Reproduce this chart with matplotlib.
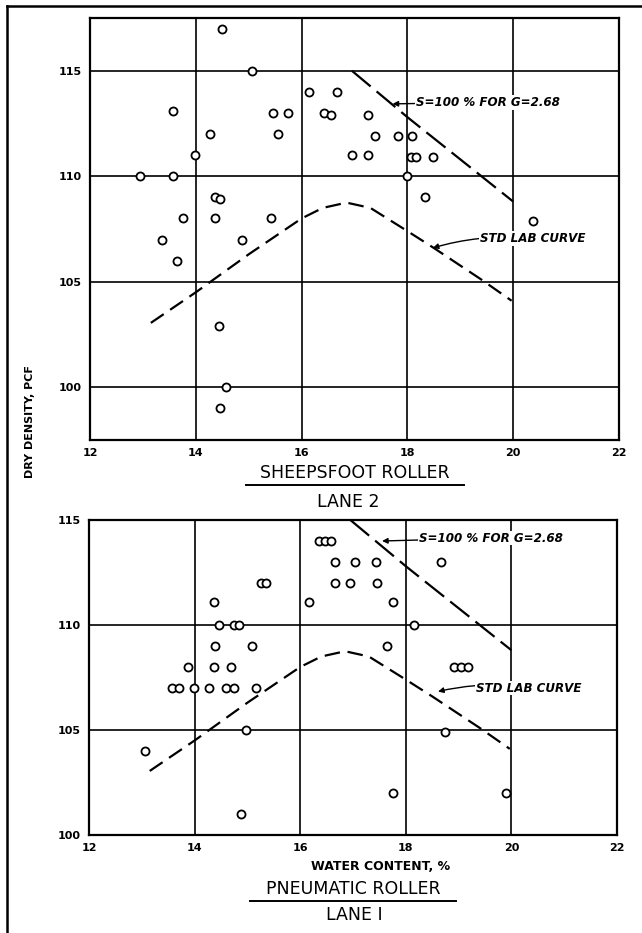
import matplotlib
matplotlib.use('Agg')
import matplotlib.pyplot as plt
from matplotlib.lines import Line2D

plt.rcParams.update({
    'font.family': 'DejaVu Sans',
    'font.weight': 'bold',
})

# ---- data ----
# Sheepsfoot roller, lane 2
sheep_w = [14.49, 15.07, 13.56, 15.45, 15.75, 16.14, 16.66, 16.43, 16.55, 17.25,
           14.26, 15.56, 17.38, 17.83, 18.08, 13.98, 16.95, 17.25, 18.06, 18.17,
           18.49, 12.95, 13.56, 18.00, 14.36, 14.45, 18.34, 13.75, 14.36, 15.43,
           20.38, 13.36, 14.87, 13.64, 14.43, 14.57, 14.45]
sheep_d = [117.0, 115.0, 113.1, 113.0, 113.0, 114.0, 114.0, 113.0, 112.9, 112.9,
           112.0, 112.0, 111.9, 111.9, 111.9, 111.0, 111.0, 111.0, 110.9, 110.9,
           110.9, 110.0, 110.0, 110.0, 109.0, 108.9, 109.0, 108.0, 108.0, 108.0,
           107.9, 107.0, 107.0, 106.0, 102.9, 100.0, 99.0]

# Pneumatic roller, lane 1
pneu_w = [16.35, 16.47, 16.58, 16.66, 17.04, 17.43, 18.66, 15.26, 15.36, 16.66,
          16.94, 17.45, 14.36, 16.17, 17.75, 14.47, 14.75, 14.85, 18.15, 14.38,
          15.08, 17.64, 13.87, 14.36, 14.69, 18.92, 19.04, 19.17, 13.57, 13.70,
          13.98, 14.27, 14.60, 14.75, 15.17, 14.98, 18.75, 13.06, 17.75, 19.89,
          14.88]
pneu_d = [114.0, 114.0, 114.0, 113.0, 113.0, 113.0, 113.0, 112.0, 112.0, 112.0,
          112.0, 112.0, 111.1, 111.1, 111.1, 110.0, 110.0, 110.0, 110.0, 109.0,
          109.0, 109.0, 108.0, 108.0, 108.0, 108.0, 108.0, 108.0, 107.0, 107.0,
          107.0, 107.0, 107.0, 107.0, 107.0, 105.0, 104.9, 104.0, 102.0, 102.0,
          101.0]

# S = 100 % for G = 2.68 (zero air voids line)
zav_w = [16.95, 18.0, 20.0]
zav_d = [115.0, 112.8, 108.8]

# standard laboratory compaction curve
std_w = [13.15, 14.0, 15.0, 16.0, 16.4, 16.85, 17.3, 18.0, 18.5, 19.4, 19.97]
std_d = [103.05, 104.5, 106.3, 108.0, 108.5, 108.75, 108.5, 107.4, 106.6, 105.1, 104.1]

x_ticks = [12, 14, 16, 18, 20, 22]

W, H = 642, 933
fig = plt.figure(figsize=(W / 100, H / 100), dpi=100)


def px_axes(x0, y0, x1, y1):
    return fig.add_axes([x0 / W, 1 - y1 / H, (x1 - x0) / W, (y1 - y0) / H])


def panel(ax, w, d, ylim, yticks, s_txt, s_tip, std_txt, std_tip):
    ax.set_xlim(12, 22)
    ax.set_ylim(*ylim)
    ax.set_xticks(x_ticks)
    ax.set_yticks(yticks)
    ax.tick_params(length=0, labelsize=8, pad=6)
    for s in ax.spines.values():
        s.set_linewidth(1.6)
    ax.grid(True, color='black', linewidth=1.2)
    ax.set_axisbelow(True)

    ax.plot(zav_w, zav_d, color='black', lw=1.6, dashes=(11, 3.5), zorder=3)
    ax.plot(std_w, std_d, color='black', lw=1.6, dashes=(7, 3.5), zorder=3)
    ax.plot(w, d, 'o', ms=5.8, mfc='white', mec='black', mew=1.3, zorder=4)

    box = dict(facecolor='white', edgecolor='none', pad=0.5)
    ax.annotate('S=100 % FOR G=2.68', xy=s_tip, xytext=s_txt, fontsize=8.6,
                style='italic', weight='semibold', ha='left', va='center',
                bbox=box, zorder=5,
                arrowprops=dict(arrowstyle='-|>', color='black', lw=1,
                                mutation_scale=8, shrinkA=0, shrinkB=0))
    ax.annotate('STD LAB CURVE', xy=std_tip, xytext=std_txt, fontsize=8.6,
                style='italic', weight='semibold', ha='left', va='center',
                bbox=box, zorder=5,
                arrowprops=dict(arrowstyle='-|>', color='black', lw=1,
                                mutation_scale=8, shrinkA=0, shrinkB=0,
                                connectionstyle='arc3,rad=0.1'))


ax1 = px_axes(90, 18, 619, 440)
panel(ax1, sheep_w, sheep_d, (97.5, 117.5), [100, 105, 110, 115],
      (18.16, 113.5), (17.72, 113.43), (19.37, 107.05), (18.48, 106.6))

ax2 = px_axes(89, 520, 617, 835)
panel(ax2, pneu_w, pneu_d, (100, 115), [100, 105, 110, 115],
      (18.25, 114.14), (17.55, 114.0), (19.33, 107.0), (18.61, 106.83))

# titles and labels
fig.text(355 / W, 1 - 473 / H, 'SHEEPSFOOT ROLLER', ha='center', va='center',
         fontsize=12.5, weight='medium')
fig.add_artist(Line2D([246 / W, 464 / W], [1 - 485 / H, 1 - 485 / H], color='black', lw=1.4))
fig.text(348 / W, 1 - 502 / H, 'LANE 2', ha='center', va='center', fontsize=12.5, weight='medium')

fig.text(30 / W, 1 - 422 / H, 'DRY DENSITY, PCF', rotation=90, ha='center', va='center', fontsize=8)

fig.text(381 / W, 1 - 866 / H, 'WATER CONTENT, %', ha='center', va='center', fontsize=9)
fig.text(353 / W, 1 - 889 / H, 'PNEUMATIC ROLLER', ha='center', va='center',
         fontsize=12.5, weight='medium')
fig.add_artist(Line2D([250 / W, 456 / W], [1 - 901 / H, 1 - 901 / H], color='black', lw=1.4))
fig.text(354 / W, 1 - 915 / H, 'LANE I', ha='center', va='center', fontsize=12.5, weight='medium')

# outer frame (left and top edges)
fig.add_artist(Line2D([7 / W, 7 / W], [0, 1 - 6 / H], color='black', lw=1.8))
fig.add_artist(Line2D([7 / W, 1], [1 - 6 / H, 1 - 6 / H], color='black', lw=1.8))

fig.savefig('out.png', dpi=100)
